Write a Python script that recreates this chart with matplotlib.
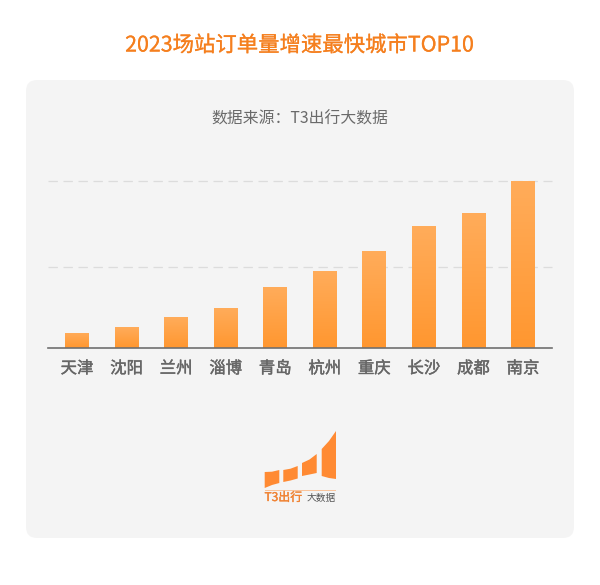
import numpy as np
import matplotlib
matplotlib.use('Agg')
import matplotlib.pyplot as plt
import matplotlib.patheffects as pe
from matplotlib.patches import FancyBboxPatch, Polygon, Rectangle
from matplotlib.colors import LinearSegmentedColormap

plt.rcParams['font.family'] = ['Noto Sans CJK SC', 'DejaVu Sans']

# values, tallest bar = 100
cities = ['天津', '沈阳', '兰州', '淄博', '青岛', '杭州', '重庆', '长沙', '成都', '南京']
growth = [9.0, 12.2, 18.4, 23.6, 36.2, 46.0, 57.8, 72.8, 81.0, 100.0]
grid_levels = [48.6, 99.8]

title = '2023场站订单量增速最快城市TOP10'
source = '数据来源：T3出行大数据'

W, H = 600, 585
fig = plt.figure(figsize=(W / 100, H / 100), dpi=100, facecolor='white')

# background layer in pixel coordinates, y goes down
bg = fig.add_axes([0, 0, 1, 1])
bg.set_xlim(0, W)
bg.set_ylim(H, 0)
bg.axis('off')
bg.add_patch(FancyBboxPatch((26, 80), 548, 458, boxstyle='round,pad=0,rounding_size=11',
                            mutation_scale=1, fc='#f4f4f4', ec='none'))
t = bg.text(299.5, 45.5, title, color='#f57f1e', fontsize=15.4, ha='center', va='center')
t.set_path_effects([pe.withStroke(linewidth=0.15, foreground='#f57f1e')])
bg.text(300, 119, source, color='#6a6a6a', fontsize=11.4, ha='center', va='center')

# chart axes
left, right, top, bottom = 48.3, 551.7, 181.0, 347.7
ax = fig.add_axes([left / W, 1 - bottom / H, (right - left) / W, (bottom - top) / H])
ax.patch.set_alpha(0)
x = np.arange(len(cities))

for level in grid_levels:
    ax.axhline(level, color='#dcdcdc', lw=0.9, dashes=(7.5, 4.5), zorder=1, clip_on=False)

bars = ax.bar(x, growth, width=0.478, color='#ff9f40', zorder=2)

# gradient fill, lighter towards the top of each bar
cmap = LinearSegmentedColormap.from_list('bar', ['#ff9730', '#ffac5a'])
for b in bars:
    x0, h = b.get_x(), b.get_height()
    im = ax.imshow(np.linspace(1, 0, 64).reshape(-1, 1), cmap=cmap, vmin=0, vmax=1, aspect='auto',
                   extent=(x0, x0 + b.get_width(), 0, h), zorder=3)
    im.set_clip_path(b)
ax.set_xlim(-0.579, 9.58)
ax.set_ylim(0, 100)

for s in ['top', 'left', 'right']:
    ax.spines[s].set_visible(False)
ax.spines['bottom'].set_color('#6f6f6f')
ax.spines['bottom'].set_linewidth(1.2)
ax.spines['bottom'].set_zorder(5)
ax.set_yticks([])
ax.set_xticks(x)
ax.set_xticklabels(cities, fontsize=11.8, color='#666666')
for lab in ax.get_xticklabels():
    lab.set_path_effects([pe.withStroke(linewidth=0.3, foreground='#666666')])
ax.tick_params(axis='x', length=0, pad=9)

# logo, from the reference crops (pixels)
logo_orange = '#ff8a33'
logo_parts = [
    [(264.7, 472), (272, 471.7), (279.3, 470), (279.3, 483), (272, 485), (264.7, 488)],
    [(283.3, 470), (290.5, 468.7), (297.7, 466), (297.7, 478.5), (290.5, 480.5), (283.3, 482)],
    [(302, 463), (309.5, 459.5), (316.7, 454), (316.7, 473), (309.5, 474.5), (302, 476)],
    [(321.7, 449), (329, 441), (336, 431), (336, 479), (329, 478), (321.7, 476)],
]
for part in logo_parts:
    bg.add_patch(Polygon(part, closed=True, fc=logo_orange, ec='none'))
bg.add_patch(Rectangle((264.5, 490), 71.5, 0.9, fc='#f9c49c', ec='none'))
lt = bg.text(264.5, 497.5, 'T3出行', color='#f08232', fontsize=8.6, ha='left', va='center')
lt.set_path_effects([pe.withStroke(linewidth=0.25, foreground='#f08232')])
bg.text(336, 497.5, '大数据', color='#555555', fontsize=7, ha='right', va='center')

fig.savefig('out.png', dpi=100)
